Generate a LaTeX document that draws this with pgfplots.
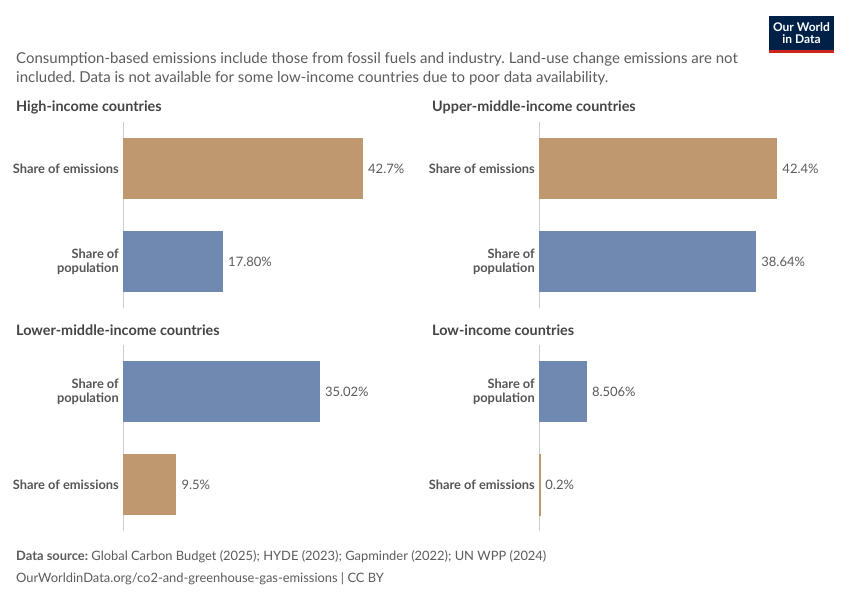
\documentclass[border=0pt]{standalone}
\usepackage{pgfplots}
\pgfplotsset{compat=1.18}
\usepackage{fontspec}
\setmainfont{Lato}
\frenchspacing
\definecolor{emis}{RGB}{192,152,112}
\definecolor{popu}{RGB}{111,137,176}
\definecolor{txtgray}{RGB}{92,92,92}
\definecolor{lblgray}{RGB}{85,85,85}
\definecolor{ttlgray}{RGB}{68,68,68}
\definecolor{axgray}{RGB}{204,204,204}
\definecolor{owidnavy}{RGB}{0,33,71}
\definecolor{owidred}{RGB}{206,38,29}
\pgfplotsset{panel/.style={
  xbar, bar width=61pt, bar shift=0pt,
  scale only axis, width=281pt, height=186pt,
  xmin=0, xmax=50, ymin=-0.5, ymax=1.5,
  axis line style={draw=none}, xtick=\empty, ytick={0,1},
  major tick length=0pt,
  yticklabel style={font=\fontsize{12.85}{14}\selectfont\bfseries, text=lblgray, align=right, inner sep=0pt, xshift=-4pt},
  nodes near coords, point meta=explicit symbolic,
  every node near coord/.append style={font=\fontsize{13}{14}\selectfont, text=txtgray, anchor=west, inner sep=0pt, xshift=5pt},
  clip=false,
}}
\begin{document}
\begin{tikzpicture}
\path[fill=white, use as bounding box] (0,0) rectangle (850pt,-600pt);
% logo
\fill[owidnavy] (769pt,-16pt) rectangle (834pt,-50pt);
\fill[owidred] (769pt,-50pt) rectangle (834pt,-53pt);
\node[text=white, font=\fontsize{12}{12.5}\selectfont\bfseries, align=center, inner sep=0pt] at (801.5pt,-33pt) {Our World\\in Data};
% subtitle
\node[anchor=base west, inner sep=0pt, text=txtgray, font=\fontsize{15}{19}\selectfont] at (16pt,-63pt) {Consumption-based emissions include those from fossil fuels and industry. Land-use change emissions are not};
\node[anchor=base west, inner sep=0pt, text=txtgray, font=\fontsize{15}{19}\selectfont] at (16pt,-82pt) {included. Data is not available for some low-income countries due to poor data availability.};
% panel titles
\node[anchor=base west, inner sep=0pt, text=ttlgray, font=\fontsize{14.4}{16}\selectfont\bfseries] at (16pt,-111pt) {High-income countries};
\node[anchor=base west, inner sep=0pt, text=ttlgray, font=\fontsize{14.4}{16}\selectfont\bfseries] at (432pt,-111pt) {Upper-middle-income countries};
\node[anchor=base west, inner sep=0pt, text=ttlgray, font=\fontsize{14.4}{16}\selectfont\bfseries] at (16pt,-335pt) {Lower-middle-income countries};
\node[anchor=base west, inner sep=0pt, text=ttlgray, font=\fontsize{14.4}{16}\selectfont\bfseries] at (432pt,-335pt) {Low-income countries};
% footer
\node[anchor=base west, inner sep=0pt, text=txtgray, font=\fontsize{12.9}{16}\selectfont] at (16pt,-560pt) {\textbf{Data source:} Global Carbon Budget (2025); HYDE (2023); Gapminder (2022); UN WPP (2024)};
\node[anchor=base west, inner sep=0pt, text=txtgray, font=\fontsize{12.9}{16}\selectfont] at (16pt,-582pt) {OurWorldinData.org/co2-and-greenhouse-gas-emissions | CC BY};

% Panel 1: High-income
\begin{axis}[panel, at={(123pt,-308pt)}, anchor=south west,
  yticklabels={{Share of\\population},{Share of emissions}}]
\draw[axgray, line width=0.8pt] (axis cs:0,-0.5) -- (axis cs:0,1.5);
\addplot[fill=emis, draw=none] coordinates {(42.7,1) [42.7\%]};
\addplot[fill=popu, draw=none] coordinates {(17.80,0) [17.80\%]};
\end{axis}
% Panel 2: Upper-middle-income
\begin{axis}[panel, at={(539pt,-308pt)}, anchor=south west,
  yticklabels={{Share of\\population},{Share of emissions}}]
\draw[axgray, line width=0.8pt] (axis cs:0,-0.5) -- (axis cs:0,1.5);
\addplot[fill=emis, draw=none] coordinates {(42.4,1) [42.4\%]};
\addplot[fill=popu, draw=none] coordinates {(38.64,0) [38.64\%]};
\end{axis}
% Panel 3: Lower-middle-income
\begin{axis}[panel, at={(123pt,-531pt)}, anchor=south west,
  yticklabels={{Share of emissions},{Share of\\population}}]
\draw[axgray, line width=0.8pt] (axis cs:0,-0.5) -- (axis cs:0,1.5);
\addplot[fill=popu, draw=none] coordinates {(35.02,1) [35.02\%]};
\addplot[fill=emis, draw=none] coordinates {(9.5,0) [9.5\%]};
\end{axis}
% Panel 4: Low-income
\begin{axis}[panel, at={(539pt,-531pt)}, anchor=south west,
  yticklabels={{Share of emissions},{Share of\\population}}]
\draw[axgray, line width=0.8pt] (axis cs:0,-0.5) -- (axis cs:0,1.5);
\addplot[fill=popu, draw=none] coordinates {(8.506,1) [8.506\%]};
\addplot[fill=emis, draw=emis, line width=0.6pt] coordinates {(0.2,0) [0.2\%]};
\end{axis}
\end{tikzpicture}
\end{document}
